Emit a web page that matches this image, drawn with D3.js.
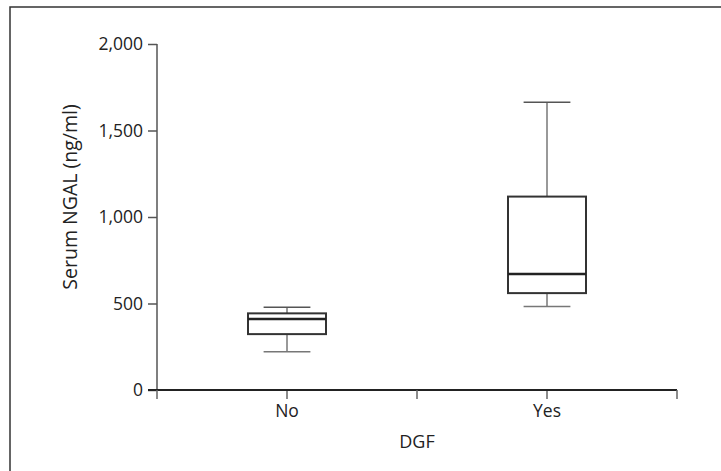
<!DOCTYPE html>
<html>
<head>
<meta charset="utf-8">
<script src="https://cdn.jsdelivr.net/npm/d3@7"></script>
<style>
  body { margin: 0; background: #fff; }
  text { font-family: "Open Sans", sans-serif; fill: #222; }
</style>
</head>
<body>
<script>
// box plot data
var groups = ["No", "Yes"];
var whiskerLow = [221, 483];
var q1 = [323, 560];
var median = [410, 670];
var q3 = [443, 1118];
var whiskerHigh = [479, 1663];
var yTicks = [0, 500, 1000, 1500, 2000];

var width = 721, height = 471;
var margin = {top: 44, right: 44, bottom: 81, left: 157};

var svg = d3.select("body")
            .append("svg")
            .attr("width", width)
            .attr("height", height);

// frame
svg.append("rect")
   .attr("x", 10).attr("y", 7)
   .attr("width", 720).attr("height", 470)
   .style("fill", "none")
   .style("stroke", "#333")
   .style("stroke-width", 1.5);

var x = d3.scaleBand()
          .domain(groups)
          .range([margin.left, width - margin.right]);

var y = d3.scaleLinear()
          .domain([0, 2000])
          .range([height - margin.bottom, margin.top]);

var fmt = d3.format(",");

// y axis
var yAxis = svg.append("g")
   .attr("transform", "translate(" + margin.left + ",0)")
   .call(d3.axisLeft(y).tickValues(yTicks).tickFormat(fmt).tickSize(9).tickPadding(5));
yAxis.select(".domain").remove();
yAxis.append("line")
   .attr("x1", 0).attr("x2", 0)
   .attr("y1", y(2000)).attr("y2", y(0))
   .style("stroke", "#555").style("stroke-width", 1.5);
yAxis.selectAll(".tick line").style("stroke", "#555").style("stroke-width", 1.5);
yAxis.selectAll(".tick text").style("font-size", "17.5px").style("fill", "#222");

// x axis
var xAxis = svg.append("g")
   .attr("transform", "translate(0," + y(0) + ")")
   .call(d3.axisBottom(x).tickSize(9).tickPadding(6));
xAxis.select(".domain").remove();
xAxis.append("line")
   .attr("x1", x.range()[0] - 9).attr("x2", x.range()[1])
   .style("stroke", "#222").style("stroke-width", 1.8);
xAxis.selectAll(".edge")
   .data([x.range()[0], x.range()[0] + x.step(), x.range()[1]])
   .enter().append("line")
   .attr("class", "edge")
   .attr("x1", function(d){ return d; }).attr("x2", function(d){ return d; })
   .attr("y1", 0).attr("y2", 9);
xAxis.selectAll("line").filter(function(){ return this.getAttribute("class") !== null || this.parentNode.getAttribute("class") === "tick"; })
   .style("stroke", "#666").style("stroke-width", 1.5);
xAxis.selectAll(".tick text").style("font-size", "17.5px").style("fill", "#222");

// axis titles
svg.append("text")
   .attr("transform", "translate(77,197) rotate(-90)")
   .attr("text-anchor", "middle")
   .style("font-size", "19.5px")
   .text("Serum NGAL (ng/ml)");

svg.append("text")
   .attr("x", x.range()[0] + x.step())
   .attr("y", 448)
   .attr("text-anchor", "middle")
   .style("font-size", "18px")
   .text("DGF");

// boxes
var boxW = x.bandwidth() * 0.3;
var capW = x.bandwidth() * 0.18;

var box = svg.selectAll(".box")
   .data(groups)
   .enter().append("g")
   .attr("class", "box")
   .attr("transform", function(d){ return "translate(" + (x(d) + x.bandwidth() / 2) + ",0)"; });

// whiskers
box.append("line")
   .attr("x1", 0).attr("x2", 0)
   .attr("y1", function(d, i){ return y(whiskerHigh[i]); })
   .attr("y2", function(d, i){ return y(q3[i]); })
   .style("stroke", "#777").style("stroke-width", 1.5);
box.append("line")
   .attr("x1", 0).attr("x2", 0)
   .attr("y1", function(d, i){ return y(q1[i]); })
   .attr("y2", function(d, i){ return y(whiskerLow[i]); })
   .style("stroke", "#777").style("stroke-width", 1.5);
box.append("line")
   .attr("x1", -capW / 2).attr("x2", capW / 2)
   .attr("y1", function(d, i){ return y(whiskerHigh[i]); })
   .attr("y2", function(d, i){ return y(whiskerHigh[i]); })
   .style("stroke", "#555").style("stroke-width", 1.5);
box.append("line")
   .attr("x1", -capW / 2).attr("x2", capW / 2)
   .attr("y1", function(d, i){ return y(whiskerLow[i]); })
   .attr("y2", function(d, i){ return y(whiskerLow[i]); })
   .style("stroke", "#777").style("stroke-width", 1.5);

box.append("rect")
   .attr("x", -boxW / 2)
   .attr("width", boxW)
   .attr("y", function(d, i){ return y(q3[i]); })
   .attr("height", function(d, i){ return y(q1[i]) - y(q3[i]); })
   .style("fill", "#fff")
   .style("stroke", "#333")
   .style("stroke-width", 2);

box.append("line")
   .attr("x1", -boxW / 2).attr("x2", boxW / 2)
   .attr("y1", function(d, i){ return y(median[i]); })
   .attr("y2", function(d, i){ return y(median[i]); })
   .style("stroke", "#222").style("stroke-width", 2.5);
</script>
</body>
</html>
